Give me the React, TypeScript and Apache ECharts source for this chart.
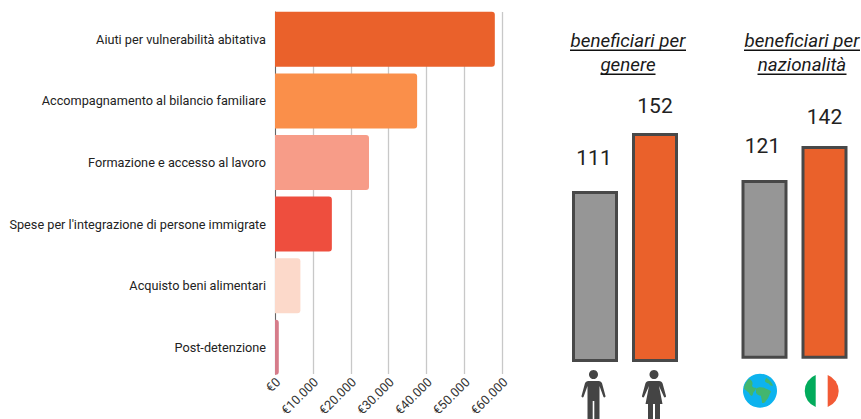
import React, { useEffect, useRef } from "react";
import * as echarts from "echarts";

const categories = [
  "Aiuti per vulnerabilità abitativa",
  "Accompagnamento al bilancio familiare",
  "Formazione e accesso al lavoro",
  "Spese per l'integrazione di persone immigrate",
  "Acquisto beni alimentari",
  "Post-detenzione",
];
const amounts = [58000, 37500, 24800, 15000, 6700, 1000];
const barColors = ["#ea612b", "#fa8f4a", "#f79c88", "#ee4e3e", "#fcd9ca", "#d67c8a"];
const genderLabels = ["uomini", "donne"];
const genderValues = [111, 152];
const natLabels = ["stranieri", "italiani"];
const natValues = [121, 142];
const titleA = ["beneficiari per", "genere"];
const titleB = ["beneficiari per", "nazionalità"];

const MAN =
  "M9 0a4.5 4.5 0 1 1-.01 0ZM4 11h10c2 0 3 1 3.6 2.6L21 26c.3 1.2-1.5 2-2.1.8L15 16V52H9.8V31H8.2V52H3V16L-.9 26.8c-.6 1.2-2.4.4-2.1-.8L.4 13.6C1 12 2 11 4 11Z";
const WOMAN =
  "M9 0a4.5 4.5 0 1 1-.01 0ZM4 11h10c2 0 3 1 3.6 2.6L21 26c.3 1.2-1.5 2-2.1.8L14 16l3.5 18H15V52H10V34H8V52H3V34H.5L4 16-.9 26.8c-.6 1.2-2.4.4-2.1-.8L.4 13.6C1 12 2 11 4 11Z";
const LAND =
  "M5 4C2 7 0 10 0 14c2 2 5 3 6 6 1 2 3 1 3-1 0-2 3-3 3-6-2 0-3 0-4-2 1-2 1-5-3-7ZM12 14c2-2 7-2 10 0 2 1 4 1 5 3-2 3-2 6-5 9-1 2-3 3-4 2 0-3-1-5-1-7-2 0-4-1-5-3ZM22 3c2 1 6 4 7 8-2 0-3 0-4-2-1-1-4-1-4-3 0-1 1-2 1-3Z";
const FLAG_GREEN = "M11 1.1V32.9A17 17 0 0 1 11 1.1Z";
const FLAG_RED = "M23 1.1V32.9A17 17 0 0 0 23 1.1Z";

echarts.graphic.registerShape("iconMan", echarts.graphic.extendPath(MAN, {}));
echarts.graphic.registerShape("iconWoman", echarts.graphic.extendPath(WOMAN, {}));
echarts.graphic.registerShape("iconLand", echarts.graphic.extendPath(LAND, {}));
echarts.graphic.registerShape("iconGreen", echarts.graphic.extendPath(FLAG_GREEN, {}));
echarts.graphic.registerShape("iconRed", echarts.graphic.extendPath(FLAG_RED, {}));

const titleGraphic = (lines: string[], cx: number) =>
  lines.flatMap((line, i) => {
    const w = i === 0 ? 116 : line === "genere" ? 55 : 89;
    const y = 40 + i * 24;
    return [
      {
        type: "text",
        x: cx,
        y: y + 0.5,
        style: {
          text: line,
          font: "italic 18.8px Roboto",
          fill: "#1a1a1a",
          align: "center",
          verticalAlign: "middle",
        },
      },
      {
        type: "rect",
        shape: { x: cx - w / 2, y: y + 9.5, width: w, height: 1.5 },
        style: { fill: "#111" },
      },
    ];
  });

const smallBars = (
  gridIndex: number,
  values: number[],
  base: number,
  labelGap: number[],
  labelShift: number[],
) => ({
  type: "custom",
  xAxisIndex: gridIndex,
  yAxisIndex: gridIndex,
  clip: false,
  encode: { x: 0, y: 1 },
  data: values.map((v, i) => [i, v]),
  renderItem: (_params: any, api: any) => {
    const i = api.value(0);
    const v = api.value(1);
    const top = api.coord([i, v]);
    const bottom = api.coord([i, base]);
    return {
      type: "group",
      children: [
        {
          type: "rect",
          shape: { x: top[0] - 21.5, y: top[1], width: 43, height: bottom[1] - top[1] },
          style: {
            fill: i === 0 ? "#969696" : "#ea612b",
            stroke: "#484848",
            lineWidth: 3,
          },
        },
        {
          type: "text",
          x: top[0] + labelShift[i],
          y: top[1] - labelGap[i],
          style: {
            text: String(v),
            font: "21px Roboto",
            fill: "#222",
            align: "center",
            verticalAlign: "middle",
          },
        },
      ],
    };
  },
});

export default function App() {
  const ref = useRef<HTMLDivElement>(null);
  useEffect(() => {
    const chart = echarts.init(ref.current!, undefined, { renderer: "svg" });
    const hiddenCat = (gridIndex: number, data: string[], extra = {}) => ({
      type: "category",
      gridIndex,
      data,
      axisLine: { show: false },
      axisTick: { show: false },
      axisLabel: { show: false },
      ...extra,
    });
    const hiddenVal = (gridIndex: number, min: number, max: number) => ({
      type: "value",
      gridIndex,
      min,
      max,
      axisLine: { show: false },
      axisTick: { show: false },
      axisLabel: { show: false },
      splitLine: { show: false },
    });
    const option = {
      animation: false,
      backgroundColor: "#ffffff",
      textStyle: { fontFamily: "Roboto" },
      grid: [
        { left: 275, width: 227.4, top: 8.5, height: 369.5 },
        { left: 275, width: 227.4, top: 12, height: 362 },
        { left: 565, width: 120, top: 134.5, height: 226 },
        { left: 734.5, width: 120, top: 147.5, height: 209.7 },
        { left: 278, width: 227.4, top: 12, height: 362 },
      ],
      xAxis: [
        {
          type: "value",
          gridIndex: 0,
          min: 0,
          max: 60000,
          interval: 10000,
          axisLine: { show: false },
          axisTick: { show: false },
          axisLabel: { show: false },
          splitLine: { show: false },
        },
        {
          type: "value",
          gridIndex: 1,
          min: 0,
          max: 60000,
          interval: 10000,
          axisLine: { show: false },
          axisTick: { show: false },
          axisLabel: { show: false },
          splitLine: { show: true, lineStyle: { color: "#c8c8c8", width: 1.3 } },
        },
        hiddenCat(2, genderLabels),
        hiddenCat(3, natLabels),
        {
          type: "value",
          gridIndex: 4,
          min: 0,
          max: 60000,
          interval: 10000,
          axisLine: { show: false },
          axisTick: { show: false },
          axisLabel: {
            rotate: 45,
            fontFamily: "Roboto",
            fontSize: 12.7,
            color: "#333",
            margin: 15,
            formatter: (v: number) => "€" + v.toLocaleString("de-DE"),
          },
          splitLine: { show: false },
        },
      ],
      yAxis: [
        {
          type: "category",
          gridIndex: 0,
          inverse: true,
          data: categories,
          axisLine: { show: false },
          axisTick: { show: false },
          axisLabel: { fontFamily: "Roboto", fontSize: 12.7, color: "#222", margin: 9 },
        },
        {
          type: "category",
          gridIndex: 1,
          inverse: true,
          data: categories,
          axisLine: { show: true, lineStyle: { color: "#666", width: 1 } },
          axisTick: { show: false },
          axisLabel: { show: false },
        },
        hiddenVal(2, -7.8, 152),
        hiddenVal(3, 12.5, 142),
        hiddenVal(4, 0, 1),
      ],
      series: [
        {
          type: "bar",
          xAxisIndex: 0,
          yAxisIndex: 0,
          barWidth: 55,
          z: 5,
          data: amounts.map((v, i) => ({
            value: v,
            itemStyle: { color: barColors[i], borderRadius: [0, 3, 3, 0] },
          })),
        },
        smallBars(2, genderValues, -7.8, [34, 29], [-1, 0]),
        smallBars(3, natValues, 12.5, [36, 31], [-2, 0]),
      ],
      graphic: [
        ...titleGraphic(titleA, 628),
        ...titleGraphic(titleB, 802),
        { type: "iconMan", x: 584.5, y: 370, style: { fill: "#444" } },
        { type: "iconWoman", x: 645, y: 370, style: { fill: "#444" } },
        { type: "circle", shape: { cx: 760, cy: 390.7, r: 17 }, style: { fill: "#0db3ee" } },
        { type: "iconLand", x: 744, y: 374.7, style: { fill: "#43b66e" } },
        { type: "iconGreen", x: 804.7, y: 374, style: { fill: "#02ab5c" } },
        { type: "iconRed", x: 804.7, y: 374, style: { fill: "#f25a35" } },
      ],
    };
    chart.setOption(option as any);
    return () => chart.dispose();
  }, []);
  return (
    <div
      ref={ref}
      style={{ position: "absolute", left: 0, top: 0, width: 861, height: 419 }}
    />
  );
}
